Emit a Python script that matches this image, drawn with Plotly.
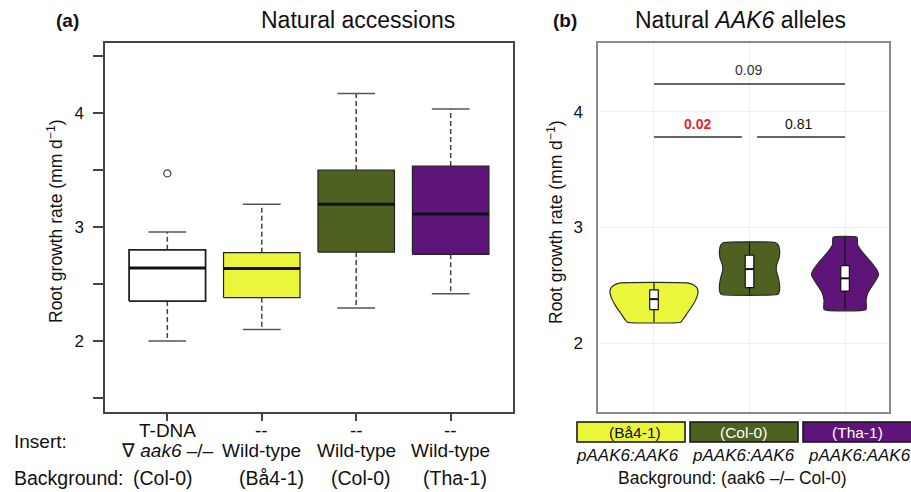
import plotly.graph_objects as go

W, H = 911, 492
FONT = "Liberation Sans, Arial, Helvetica, sans-serif"

# ---------------- Panel (a): natural accessions (box plots) ----------------
insert_row1 = ["T-DNA", "--", "--", "--"]
insert_row2 = ["\u2207 <i>aak6</i> \u2013/\u2013", "Wild-type", "Wild-type", "Wild-type"]
background_a = ["(Col-0)", "(Bå4-1)", "(Col-0)", "(Tha-1)"]
box_lo = [2.00, 2.10, 2.29, 2.415]
box_q1 = [2.35, 2.38, 2.78, 2.76]
box_med = [2.64, 2.635, 3.20, 3.115]
box_q3 = [2.80, 2.775, 3.50, 3.535]
box_hi = [2.955, 3.20, 4.17, 4.035]
outlier_x = [1]
outlier_y = [3.47]
box_colors = ["#FFFFFF", "#EBF63A", "#4F6121", "#5F1479"]

# ---------------- Panel (b): natural AAK6 alleles (violins) ----------------
allele_labels = ["(Bå4-1)", "(Col-0)", "(Tha-1)"]
allele_text_colors = ["#111111", "#FFFFFF", "#FFFFFF"]
violin_colors = ["#EBF63A", "#4F6121", "#5F1479"]
violin_y = [
    [2.52, 2.50, 2.47, 2.43, 2.38, 2.32, 2.26, 2.20, 2.18],
    [2.87, 2.85, 2.80, 2.74, 2.68, 2.63, 2.57, 2.50, 2.44, 2.42],
    [2.915, 2.85, 2.78, 2.70, 2.63, 2.59, 2.52, 2.44, 2.37, 2.29],
]
violin_halfwidth = [
    [0.35, 0.42, 0.455, 0.46, 0.44, 0.40, 0.35, 0.30, 0.28],
    [0.27, 0.30, 0.315, 0.31, 0.285, 0.28, 0.30, 0.315, 0.31, 0.29],
    [0.126, 0.131, 0.188, 0.272, 0.335, 0.351, 0.304, 0.241, 0.22, 0.22],
]
vbox_q1 = [2.29, 2.48, 2.45]
vbox_med = [2.38, 2.64, 2.56]
vbox_q3 = [2.46, 2.76, 2.67]

sig_x0 = [0, 0, 1.08]
sig_x1 = [2, 0.92, 2]
sig_y = [4.242, 3.784, 3.784]
sig_text = ["0.09", "<b>0.02</b>", "0.81"]
sig_text_x = [0.985, 0.46, 1.51]
sig_text_y = [4.36, 3.896, 3.896]
sig_colors = ["#333333", "#F01E1E", "#111111"]


def px(x):
    return x / W


def py(y):
    return 1 - y / H


fig = go.Figure()

# ---- panel (a) boxes ----
BHW, CHW = 0.405, 0.2
for i in range(len(box_med)):
    x = i + 1
    fig.add_trace(go.Scatter(
        x=[x, x, None, x, x],
        y=[box_q3[i], box_hi[i], None, box_q1[i], box_lo[i]],
        mode="lines", line=dict(color="#444444", width=1.5, dash="5px,3px"),
        xaxis="x", yaxis="y", hoverinfo="skip"))
    fig.add_trace(go.Scatter(
        x=[x - CHW, x + CHW, None, x - CHW, x + CHW],
        y=[box_hi[i], box_hi[i], None, box_lo[i], box_lo[i]],
        mode="lines", line=dict(color="#555555", width=1.5),
        xaxis="x", yaxis="y", hoverinfo="skip"))
    fig.add_trace(go.Scatter(
        x=[x - BHW, x + BHW, x + BHW, x - BHW, x - BHW],
        y=[box_q1[i], box_q1[i], box_q3[i], box_q3[i], box_q1[i]],
        mode="lines", fill="toself", fillcolor=box_colors[i],
        line=dict(color="#222222", width=1.8 if i == 0 else 1.2),
        xaxis="x", yaxis="y", hoverinfo="skip"))
    fig.add_trace(go.Scatter(
        x=[x - BHW, x + BHW], y=[box_med[i], box_med[i]],
        mode="lines", line=dict(color="#111111", width=3),
        xaxis="x", yaxis="y", hoverinfo="skip"))

fig.add_trace(go.Scatter(
    x=outlier_x, y=outlier_y, mode="markers",
    marker=dict(symbol="circle-open", size=7, color="#444444", line=dict(width=1.3)),
    xaxis="x", yaxis="y", hoverinfo="skip"))

# ---- panel (b) violins ----
IBW = 0.045
for i in range(len(violin_y)):
    ys = violin_y[i]
    hw = violin_halfwidth[i]
    xs = [i + w for w in hw] + [i - w for w in reversed(hw)] + [i + hw[0]]
    yy = list(ys) + list(reversed(ys)) + [ys[0]]
    fig.add_trace(go.Scatter(
        x=xs, y=yy, mode="lines", fill="toself", fillcolor=violin_colors[i],
        line=dict(color="#2a2a2a", width=1.2, shape="spline", smoothing=0.4),
        xaxis="x2", yaxis="y2", hoverinfo="skip"))
    fig.add_trace(go.Scatter(
        x=[i, i], y=[min(ys), max(ys)], mode="lines",
        line=dict(color="#111111", width=1.2),
        xaxis="x2", yaxis="y2", hoverinfo="skip"))
    fig.add_trace(go.Scatter(
        x=[i - IBW, i + IBW, i + IBW, i - IBW, i - IBW],
        y=[vbox_q1[i], vbox_q1[i], vbox_q3[i], vbox_q3[i], vbox_q1[i]],
        mode="lines", fill="toself", fillcolor="#FFFFFF",
        line=dict(color="#111111", width=1.2),
        xaxis="x2", yaxis="y2", hoverinfo="skip"))
    fig.add_trace(go.Scatter(
        x=[i - IBW, i + IBW], y=[vbox_med[i], vbox_med[i]], mode="lines",
        line=dict(color="#111111", width=2),
        xaxis="x2", yaxis="y2", hoverinfo="skip"))

# significance brackets
for i in range(len(sig_y)):
    fig.add_trace(go.Scatter(
        x=[sig_x0[i], sig_x1[i]], y=[sig_y[i], sig_y[i]], mode="lines",
        line=dict(color="#333333", width=1.5),
        xaxis="x2", yaxis="y2", hoverinfo="skip"))

annotations = []
for i in range(len(sig_text)):
    annotations.append(dict(
        x=sig_text_x[i], y=sig_text_y[i], xref="x2", yref="y2", text=sig_text[i],
        showarrow=False, font=dict(size=14, color=sig_colors[i], family=FONT),
        bgcolor="#FFFFFF" if i == 1 else None, xanchor="center", yanchor="middle"))


def ann(x, y, text, size, xref="paper", color="#111111", xanchor="center", angle=0):
    annotations.append(dict(
        x=x, y=y, xref=xref, yref="paper", text=text, showarrow=False,
        font=dict(size=size, color=color, family=FONT), xanchor=xanchor,
        yanchor="middle", textangle=angle, borderpad=0))


# titles
ann(px(67), py(20), "<b>(a)</b>", 19)
ann(px(358), py(20), "Natural accessions", 23)
ann(px(565), py(20), "<b>(b)</b>", 19)
ann(px(740), py(20), "Natural <i>AAK6</i> alleles", 23)

# y-axis titles
ann(px(55), py(221), "Root growth rate (mm d<sup>\u22121</sup>)", 17.5, angle=-90)
ann(px(555), py(222), "Root growth rate (mm d<sup>\u22121</sup>)", 17.5, angle=-90)

# panel (a) bottom labels
ann(px(13), py(441), "Insert:", 19, xanchor="left")
ann(px(13), py(478), "Background:", 19.5, xanchor="left")
bg_off = [0.0, 0.1, 0.05, 0.05]
for i in range(len(insert_row1)):
    ann(i + 1, py(430), insert_row1[i], 19, xref="x")
    ann(i + 1, py(450), insert_row2[i], 19, xref="x")
    if i == 0:
        ann(px(163), py(478), background_a[i], 19.5)
    else:
        ann(i + 1 + bg_off[i], py(478), background_a[i], 19.5, xref="x")

# panel (b) bottom labels
shapes = []
box_px = [(577, 685), (690, 798), (803, 915)]
for i in range(len(allele_labels)):
    x0, x1 = box_px[i]
    shapes.append(dict(type="rect", xref="paper", yref="paper",
                       x0=px(x0), x1=px(x1), y0=py(442), y1=py(422),
                       fillcolor=violin_colors[i], line=dict(color="#111111", width=1.5),
                       layer="above"))
label_cx = [635, 743, 857]
sub_cx = [627, 743, 859]
for i in range(len(allele_labels)):
    ann(px(label_cx[i]), py(432), allele_labels[i], 15.5, color=allele_text_colors[i])
    ann(px(sub_cx[i]), py(455), "<i>pAAK6:AAK6</i>", 17)
ann(px(732), py(478), "Background: (aak6 \u2013/\u2013 Col-0)", 17.5)

AX_COMMON = dict(showgrid=False, zeroline=False, automargin=False, fixedrange=True)

fig.update_layout(
    width=W, height=H,
    margin=dict(l=0, r=0, t=0, b=0, pad=0),
    paper_bgcolor="#FFFFFF", plot_bgcolor="#FFFFFF",
    showlegend=False,
    font=dict(family=FONT, color="#111111"),
    xaxis=dict(domain=[px(105), px(513)], range=[0.34, 4.66], anchor="y",
               tickvals=[1, 2, 3, 4], showticklabels=False, ticks="outside",
               ticklen=7, tickwidth=1.5, tickcolor="#444444",
               showline=True, mirror=True, linecolor="#444444", linewidth=1.5,
               **AX_COMMON),
    yaxis=dict(domain=[py(412), py(43)], range=[1.377, 4.614], anchor="x",
               tickvals=[2, 3, 4],
               ticks="outside", ticklen=10, tickwidth=1.5, tickcolor="#444444",
               minor=dict(tickvals=[1.5, 2.5, 3.5, 4.5], ticks="outside", ticklen=10,
                          tickwidth=1.5, tickcolor="#444444", showgrid=False),
               ticklabelstandoff=6,
               tickfont=dict(size=17, family=FONT, color="#111111"),
               showline=True, mirror=True, linecolor="#444444", linewidth=1.5,
               **AX_COMMON),
    xaxis2=dict(domain=[px(598), px(889)], range=[-0.586, 2.46], anchor="y2",
                tickvals=[0, 1, 2], showticklabels=False, ticks="",
                showline=True, mirror=True, linecolor="#8a8a8a", linewidth=1.5,
                showgrid=True, gridcolor="#EFEFEF", gridwidth=1,
                zeroline=False, automargin=False, fixedrange=True),
    yaxis2=dict(domain=[py(412), py(43)], range=[1.403, 4.597], anchor="x2",
                tickvals=[2, 3, 4], ticks="", ticklabelstandoff=10,
                tickfont=dict(size=17, family=FONT, color="#111111"),
                showline=True, mirror=True, linecolor="#8a8a8a", linewidth=1.5,
                showgrid=True, gridcolor="#EFEFEF", gridwidth=1,
                zeroline=False, automargin=False, fixedrange=True),
    annotations=annotations,
    shapes=shapes,
)

fig.write_html("out.html", config={"displayModeBar": False},
               post_script="document.body.style.margin='0px';document.body.style.padding='0px';")
